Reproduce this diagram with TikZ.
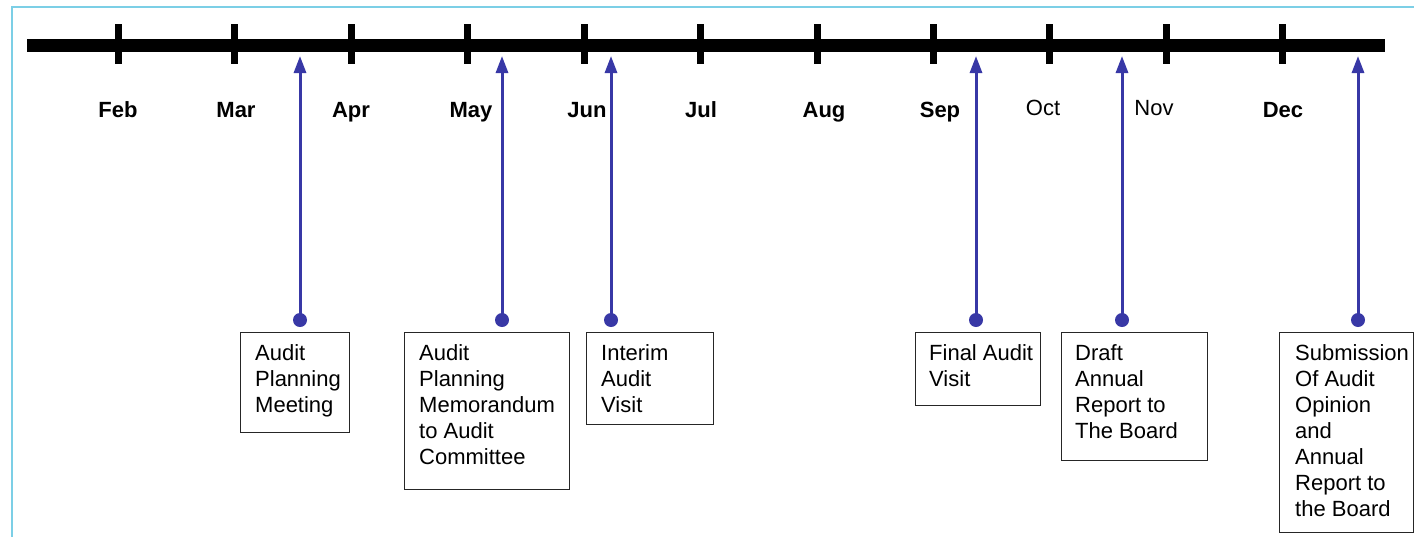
\documentclass[tikz,border=0pt]{standalone}
\usepackage{fontspec}
\setmainfont{Liberation Sans}
\usetikzlibrary{arrows.meta}
\definecolor{frameblue}{HTML}{7CCFE6}
\definecolor{arrblue}{HTML}{3838A6}
\begin{document}
\begin{tikzpicture}[x=1pt,y=-1pt,
  tick/.style={line width=7pt},
  mon/.style={font=\fontsize{22}{26}\selectfont\bfseries, inner sep=0pt, anchor=base},
  monreg/.style={font=\fontsize{22}{26}\selectfont, inner sep=0pt, anchor=base},
  dotnode/.style={circle, fill=arrblue, minimum size=14pt, inner sep=0pt},
  arr/.style={draw=arrblue, line width=3pt, -{Triangle[width=12pt,length=17pt]}, arrblue},
  box/.style={draw=black!85, line width=1.3pt, anchor=north west, inner sep=0pt},
  btext/.style={anchor=north west, inner sep=0pt, align=left, font=\fontsize{22}{26}\selectfont}
]
\useasboundingbox (0,0) rectangle (1414,536);
% frame
\draw[frameblue, line width=2pt] (12,540) -- (12,7) -- (1420,7);
% timeline
\draw[line width=13pt] (27,45) -- (1385,45);
\foreach \x in {118,234,351,467,584,700,817,933,1049,1166,1282}
  \draw[tick] (\x,24) -- (\x,64);
% months
\node[mon] (feb) at (118,117) {Feb};
\node[mon] (mar) at (236,117) {Mar};
\node[mon] (apr) at (351,117) {Apr};
\node[mon] (may) at (471,117) {May};
\node[mon] (jun) at (587,117) {Jun};
\node[mon] (jul) at (701,117) {Jul};
\node[mon] (aug) at (824,117) {Aug};
\node[mon] (sep) at (940,117) {Sep};
\node[monreg] (oct) at (1043,115) {Oct};
\node[monreg] (nov) at (1154,115) {Nov};
\node[mon] (dec) at (1283,117) {Dec};
% boxes
\node[box, minimum width=109pt, minimum height=100pt] (b1) at (240,332) {};
\node[btext] (t1) at (255,344) {Audit\\Planning\\Meeting};
\node[box, minimum width=165pt, minimum height=157pt] (b2) at (404,332) {};
\node[btext] (t2) at (419,344) {Audit\\Planning\\Memorandum\\to Audit\\Committee};
\node[box, minimum width=127pt, minimum height=92pt] (b3) at (586,332) {};
\node[btext] (t3) at (601,344) {Interim\\Audit\\Visit};
\node[box, minimum width=125pt, minimum height=73pt] (b4) at (915,332) {};
\node[btext] (t4) at (929,344) {Final Audit\\Visit};
\node[box, minimum width=146pt, minimum height=128pt] (b5) at (1061,332) {};
\node[btext] (t5) at (1075,344) {Draft\\Annual\\Report to\\The Board};
\node[box, minimum width=134pt, minimum height=200pt] (b6) at (1279,332) {};
\node[btext] (t6) at (1295,344) {Submission\\Of Audit\\Opinion\\and\\Annual\\Report to\\the Board};
% arrows
\foreach \i/\x in {1/300,2/502,3/611,4/976,5/1122,6/1358}{
  \node[dotnode] (d\i) at (\x,320) {};
  \coordinate (a\i) at (\x,56);
  \draw[arr] (d\i.center) -- (a\i);
}
\end{tikzpicture}
\end{document}
